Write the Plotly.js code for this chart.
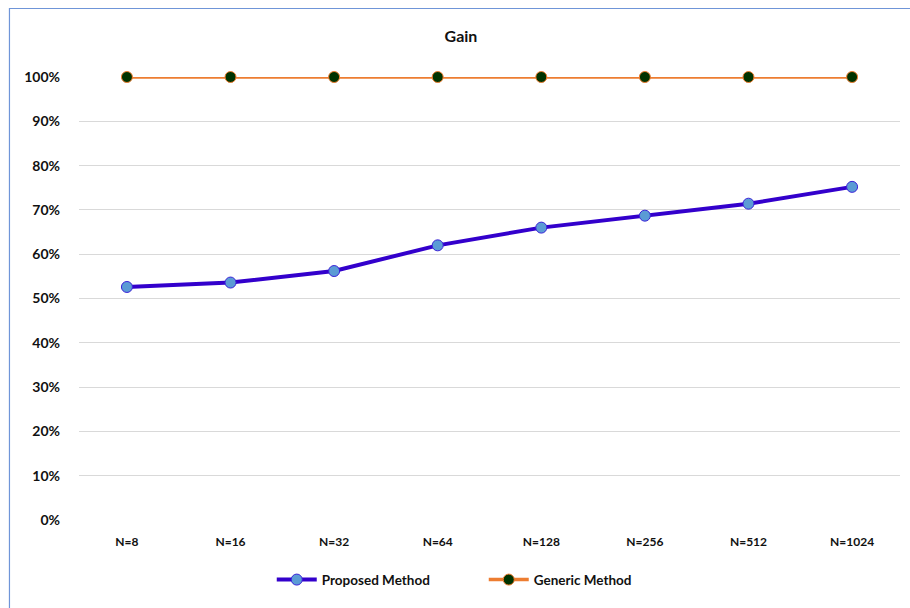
<!DOCTYPE html>
<html>
<head>
<meta charset="utf-8">
<script src="https://cdn.plot.ly/plotly-3.0.1.min.js"></script>
<style>html,body{margin:0;padding:0;background:#fff;}#chart{width:910px;height:608px;}</style>
</head>
<body>
<div id="chart"></div>
<script>
const categories = ["N=8", "N=16", "N=32", "N=64", "N=128", "N=256", "N=512", "N=1024"];
const proposedMethod = [0.526, 0.536, 0.562, 0.620, 0.660, 0.687, 0.714, 0.752];
const genericMethod = [1.0, 1.0, 1.0, 1.0, 1.0, 1.0, 1.0, 1.0];
const yTicks = [0, 0.1, 0.2, 0.3, 0.4, 0.5, 0.6, 0.7, 0.8, 0.9, 1.0];

const font = "Lato, 'Open Sans', sans-serif";

const traces = [
  {
    type: "scatter", mode: "lines+markers", name: "Proposed Method",
    x: categories, y: proposedMethod, cliponaxis: false,
    line: {color: "#3300cc", width: 4},
    marker: {symbol: "circle", size: 11, color: "#5b9bd5", line: {color: "#3a22d8", width: 1}}
  },
  {
    type: "scatter", mode: "lines+markers", name: "Generic Method",
    x: categories, y: genericMethod, cliponaxis: false,
    line: {color: "#ed7d31", width: 3.5},
    marker: {symbol: "circle", size: 11, color: "#003300", line: {color: "#ed7d31", width: 1}}
  }
];

const layout = {
  width: 910, height: 608,
  margin: {l: 79, r: 10, t: 77, b: 88, autoexpand: false},
  paper_bgcolor: "#ffffff", plot_bgcolor: "#ffffff",
  font: {family: font, color: "#111111"},
  title: {text: "<b>Gain</b>", x: 0.5066, xanchor: "center", y: 0.94, yanchor: "middle",
          font: {family: font, size: 16, color: "#111111"}},
  xaxis: {
    type: "category", showgrid: false, zeroline: false, showline: false,
    ticks: "", tickfont: {family: font, size: 12, color: "#111111", weight: "bold"},
    ticklabelstandoff: 13, fixedrange: true
  },
  yaxis: {
    range: [0, 1], tickvals: yTicks, tickformat: ".0%",
    showgrid: true, gridcolor: "#d9d9d9", gridwidth: 1,
    zeroline: false, showline: false, ticks: "",
    tickfont: {family: font, size: 14, color: "#111111", weight: "bold"},
    ticklabelstandoff: 18, fixedrange: true
  },
  legend: {
    orientation: "h", x: 0.493, xanchor: "center", y: -0.135, yanchor: "middle",
    font: {family: font, size: 13.5, color: "#111111", weight: "bold"},
    itemwidth: 40, entrywidth: 157, traceorder: "normal"
  },
  showlegend: true,
  shapes: [{
    type: "rect", xref: "paper", yref: "paper",
    x0: -0.0847, x1: 1.05, y0: -0.3, y1: 1.1546,
    line: {color: "#6f95d8", width: 1.2}, fillcolor: "rgba(0,0,0,0)", layer: "below"
  }]
};

Plotly.newPlot("chart", traces, layout, {displayModeBar: false, staticPlot: true});
</script>
</body>
</html>
